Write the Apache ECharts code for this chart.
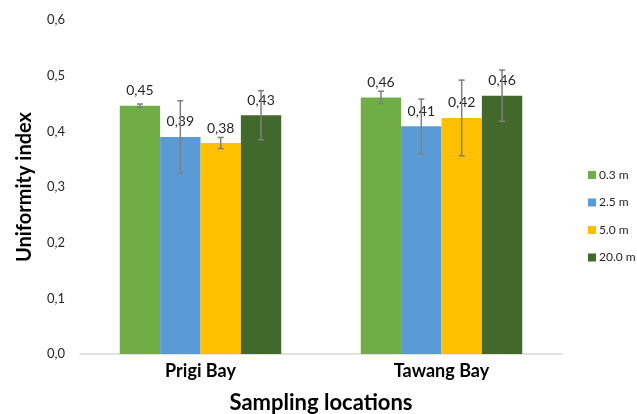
<!DOCTYPE html>
<html><head><meta charset="utf-8">
<script src="https://cdn.jsdelivr.net/npm/echarts@6/dist/echarts.min.js"></script>
<style>html,body{margin:0;padding:0;background:#fff}#c{width:637px;height:414px}</style>
</head><body><div id="c"></div>
<script>
var categories = ['Prigi Bay', 'Tawang Bay'];
var seriesNames = ['0.3 m', '2.5 m', '5.0 m', '20.0 m'];
var colors = ['#70AD47', '#5B9BD5', '#FFC000', '#43682B'];
var v03 = [0.446, 0.461];
var v25 = [0.390, 0.409];
var v50 = [0.379, 0.424];
var v200 = [0.429, 0.464];
var e03 = [0.003, 0.011];
var e25 = [0.065, 0.049];
var e50 = [0.010, 0.068];
var e200 = [0.044, 0.046];
var yTicks = [0, 0.1, 0.2, 0.3, 0.4, 0.5, 0.6];

var values = [v03, v25, v50, v200];
var errors = [e03, e25, e50, e200];
var FONT = 'Lato';
var gapRatio = 0.33;

var series = [];
values.forEach(function (vals, i) {
  series.push({
    name: seriesNames[i], type: 'bar', data: vals,
    barGap: '0%', barCategoryGap: (gapRatio * 100) + '%',
    itemStyle: { color: colors[i] },
    label: {
      show: true, position: 'top', distance: 8,
      fontFamily: FONT, fontSize: 14, color: '#262626',
      formatter: function (p) { return p.value.toFixed(2).replace('.', ','); }
    },
    z: 2
  });
});
values.forEach(function (vals, i) {
  var data = vals.map(function (v, j) { return [j, v - errors[i][j], v + errors[i][j]]; });
  series.push({
    type: 'custom', data: data, z: 5, silent: true,
    encode: { x: 0, y: [1, 2] },
    renderItem: function (params, api) {
      var idx = api.value(0);
      var lo = api.coord([idx, api.value(1)]);
      var hi = api.coord([idx, api.value(2)]);
      var band = api.size([1, 0])[0];
      var bw = band * (1 - gapRatio) / 4;
      var x = lo[0] + (i - 1.5) * bw;
      var cap = 3;
      var st = { stroke: '#7F7F7F', lineWidth: 1.5 };
      return { type: 'group', children: [
        { type: 'line', shape: { x1: x, y1: lo[1], x2: x, y2: hi[1] }, style: st },
        { type: 'line', shape: { x1: x - cap, y1: lo[1], x2: x + cap, y2: lo[1] }, style: st },
        { type: 'line', shape: { x1: x - cap, y1: hi[1], x2: x + cap, y2: hi[1] }, style: st }
      ]};
    }
  });
});

var chart = echarts.init(document.getElementById('c'));
chart.setOption({
  animation: false,
  textStyle: { fontFamily: FONT },
  grid: { left: 80, right: 75, top: 20, bottom: 60, containLabel: false, outerBoundsMode: 'none' },
  legend: {
    data: seriesNames, orient: 'vertical', left: 583, top: 164,
    itemWidth: 8, itemHeight: 8, itemGap: 15.5, icon: 'rect',
    textStyle: { fontFamily: FONT, fontSize: 12, color: '#262626', padding: [0, 0, 0, -2] }
  },
  xAxis: {
    type: 'category', data: categories,
    name: 'Sampling locations', nameLocation: 'middle', nameGap: 38,
    nameTextStyle: { fontFamily: FONT, fontSize: 22, fontWeight: 'bold', color: '#000' },
    axisLine: { lineStyle: { color: '#D9D9D9', width: 1.5 } },
    axisTick: { show: false },
    axisLabel: { fontFamily: FONT, fontSize: 18, fontWeight: 'bold', color: '#000', margin: 8 }
  },
  yAxis: {
    type: 'value', min: 0, max: 0.6, interval: 0.1,
    name: 'Uniformity index', nameLocation: 'middle', nameGap: 45,
    nameTextStyle: { fontFamily: FONT, fontSize: 20, fontWeight: 'bold', color: '#000' },
    axisLine: { show: false }, axisTick: { show: false },
    splitLine: { show: false },
    axisLabel: {
      fontFamily: FONT, fontSize: 13, color: '#262626', margin: 15,
      formatter: function (v) { return v.toFixed(1).replace('.', ','); }
    }
  },
  series: series
});
</script></body></html>
